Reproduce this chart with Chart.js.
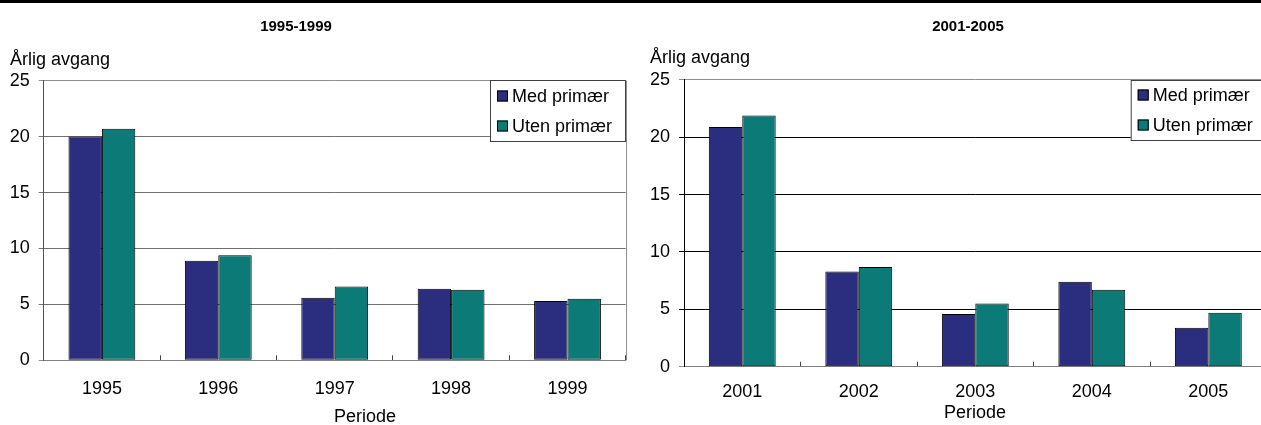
<!DOCTYPE html>
<html>
<head>
<meta charset="utf-8">
<script src="https://cdn.jsdelivr.net/npm/chart.js@4.4.0/dist/chart.umd.min.js"></script>
<style>
body { margin: 0; width: 1261px; height: 425px; overflow: hidden; background: #fff; position: relative; }
#topline { position: absolute; left: 0; top: 0; width: 1261px; height: 3px; background: #000; }
#wrap1 { position: absolute; left: 0; top: 0; width: 630px; height: 425px; }
#wrap2 { position: absolute; left: 630px; top: 0; width: 670px; height: 425px; }
</style>
</head>
<body>
<div id="topline"></div>
<div id="wrap1"><canvas id="chart1"></canvas></div>
<div id="wrap2"><canvas id="chart2"></canvas></div>
<script>
// data
var years1 = ['1995', '1996', '1997', '1998', '1999'];
var med1 = [20.0, 8.9, 5.6, 6.4, 5.3];
var uten1 = [20.7, 9.4, 6.6, 6.3, 5.5];

var years2 = ['2001', '2002', '2003', '2004', '2005'];
var med2 = [20.9, 8.3, 4.6, 7.4, 3.4];
var uten2 = [21.9, 8.7, 5.5, 6.7, 4.7];

var seriesNames = ['Med primær', 'Uten primær'];
var seriesColors = ['#2b2d7e', '#0c7b77'];
var yMax = 25;
var yStep = 5;

var FONT = '"Liberation Sans", Arial, sans-serif';
var FSIZE = 18;

// titles, axis labels and the boxed legend are drawn here
var extraText = {
    id: 'extraText',
    afterDraw: function (chart, args, o) {
        var c = chart.ctx;
        c.save();
        c.fillStyle = '#000';
        c.textBaseline = 'middle';
        c.textAlign = 'center';
        c.font = 'bold 15px ' + FONT;
        c.fillText(o.title, o.titleX, o.titleY);
        c.font = FSIZE + 'px ' + FONT;
        c.fillText(o.xlabel, o.xlabelX, o.xlabelY);
        c.textAlign = 'left';
        c.textBaseline = 'alphabetic';
        c.fillText(o.ylabel, o.ylabelX, o.ylabelY);

        // legend box
        var lg = o.legend;
        c.fillStyle = '#fff';
        c.fillRect(lg.x, lg.y, lg.w, lg.h);
        c.strokeStyle = '#404040';
        c.lineWidth = 1;
        c.strokeRect(lg.x + 0.5, lg.y + 0.5, lg.w, lg.h);
        c.textBaseline = 'middle';
        chart.data.datasets.forEach(function (ds, i) {
            var cy = lg.y + lg.first + i * lg.gap;
            c.fillStyle = ds.backgroundColor;
            c.fillRect(lg.x + 7, cy - 5.5, 11, 11);
            c.strokeStyle = '#000';
            c.strokeRect(lg.x + 7.5, cy - 5, 10, 10);
            c.fillStyle = '#000';
            c.font = FSIZE + 'px ' + FONT;
            c.fillText(ds.label, lg.x + 22, cy + 1);
        });
        c.restore();
    },
    beforeDatasetsDraw: function (chart) {
        var a = chart.chartArea;
        var c = chart.ctx;
        c.save();
        c.strokeStyle = '#909090';
        c.lineWidth = 1;
        c.beginPath();
        c.moveTo(Math.round(a.right) + 0.5, a.top);
        c.lineTo(Math.round(a.right) + 0.5, a.bottom);
        c.stroke();
        c.restore();
    }
};

function makeChart(canvasId, labels, med, uten, box) {
    return new Chart(document.getElementById(canvasId), {
        type: 'bar',
        data: {
            labels: labels,
            datasets: [{
                label: seriesNames[0],
                data: med,
                backgroundColor: seriesColors[0],
                borderColor: '#000',
                borderWidth: 1,
                borderSkipped: false
            }, {
                label: seriesNames[1],
                data: uten,
                backgroundColor: seriesColors[1],
                borderColor: '#000',
                borderWidth: 1,
                borderSkipped: false
            }]
        },
        options: {
            responsive: true,
            maintainAspectRatio: false,
            animation: false,
            datasets: {
                bar: { barPercentage: 1, categoryPercentage: 0.574 }
            },
            layout: {
                padding: { top: box.top, right: box.right, bottom: 0, left: 0 }
            },
            plugins: {
                legend: { display: false },
                tooltip: { enabled: false },
                title: { display: false },
                extraText: box.text
            },
            scales: {
                x: {
                    grid: {
                        offset: true,
                        drawOnChartArea: false,
                        tickLength: -5,
                        color: '#404040'
                    },
                    border: { color: '#808080' },
                    ticks: {
                        color: '#000',
                        font: { family: FONT, size: FSIZE },
                        padding: box.xPad,
                        maxRotation: 0
                    },
                    afterFit: function (s) { s.height = box.xHeight; }
                },
                y: {
                    min: 0,
                    max: yMax,
                    grid: {
                        tickLength: 5,
                        color: function (ctx) {
                            if (ctx.tick && (ctx.tick.value === 0 || ctx.tick.value === yMax)) return '#909090';
                            return box.gridColor;
                        }
                    },
                    border: { color: box.yAxisColor },
                    ticks: {
                        stepSize: yStep,
                        color: '#000',
                        font: { family: FONT, size: FSIZE },
                        padding: 9
                    },
                    afterFit: function (s) { s.width = box.yWidth; }
                }
            }
        },
        plugins: [extraText]
    });
}

makeChart('chart1', years1, med1, uten1, {
    top: 80.7, right: 4.3, yWidth: 43.7, xHeight: 425 - 360.3, xPad: 23,
    gridColor: '#707070', yAxisColor: '#505050',
    text: {
        title: '1995-1999', titleX: 296, titleY: 27,
        ylabel: 'Årlig avgang', ylabelX: 10, ylabelY: 65,
        xlabel: 'Periode', xlabelX: 365, xlabelY: 417,
        legend: { x: 490, y: 80, w: 135, h: 61, first: 16, gap: 30 }
    }
});

makeChart('chart2', years2, med2, uten2, {
    top: 79.9, right: 670 - 636.6, yWidth: 54, xHeight: 425 - 366.7, xPad: 20,
    gridColor: '#000', yAxisColor: '#000',
    text: {
        title: '2001-2005', titleX: 338, titleY: 27,
        ylabel: 'Årlig avgang', ylabelX: 20, ylabelY: 63,
        xlabel: 'Periode', xlabelX: 345, xlabelY: 413,
        legend: { x: 500.7, y: 80, w: 160, h: 60, first: 15, gap: 30 }
    }
});
</script>
</body>
</html>
